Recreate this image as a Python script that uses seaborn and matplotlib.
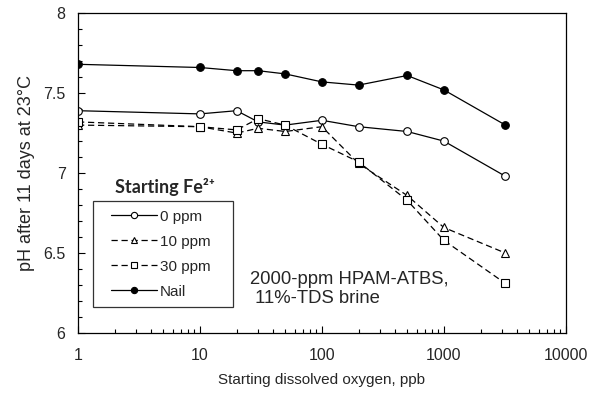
import numpy as np
import pandas as pd
import seaborn as sns
import matplotlib.pyplot as plt
from matplotlib.ticker import FixedLocator, FuncFormatter, MultipleLocator, LogLocator, NullFormatter
from matplotlib.lines import Line2D
from matplotlib.legend_handler import HandlerLine2D

# data
oxygen = [1, 10, 20, 30, 50, 100, 200, 500, 1000, 3200]
ph_0ppm = [7.39, 7.37, 7.39, 7.32, 7.30, 7.33, 7.29, 7.26, 7.20, 6.98]
ph_10ppm = [7.30, 7.29, 7.25, 7.28, 7.26, 7.29, 7.06, 6.86, 6.66, 6.50]
ph_30ppm = [7.32, 7.29, 7.27, 7.34, 7.30, 7.18, 7.07, 6.83, 6.58, 6.31]
ph_nail = [7.68, 7.66, 7.64, 7.64, 7.62, 7.57, 7.55, 7.61, 7.52, 7.30]
series_names = ["0 ppm", "10 ppm", "30 ppm", "Nail"]

sns.set_style("ticks")
plt.rcParams['font.family'] = ['Liberation Sans', 'DejaVu Sans']

fig = plt.figure(figsize=(6, 3.97), dpi=100)
ax = fig.add_axes([0.13, 0.161, 0.813, 0.806])

styles = {
    "0 ppm": dict(marker="o", linestyle="-", markerfacecolor="white"),
    "10 ppm": dict(marker="^", linestyle=(0, (5, 3)), markerfacecolor="white"),
    "30 ppm": dict(marker="s", linestyle=(0, (5, 3)), markerfacecolor="white"),
    "Nail": dict(marker="o", linestyle="-", markerfacecolor="black"),
}
values = [ph_0ppm, ph_10ppm, ph_30ppm, ph_nail]

for name, vals in zip(series_names, values):
    df = pd.DataFrame({"oxygen": oxygen, "ph": vals})
    st = styles[name]
    sns.lineplot(data=df, x="oxygen", y="ph", ax=ax, color="black", lw=0.9,
                 marker=st["marker"], linestyle=st["linestyle"],
                 markerfacecolor=st["markerfacecolor"], markeredgecolor="black",
                 markeredgewidth=0.8, markersize=5.5, legend=False)

ax.set_xscale("log")
ax.set_xlim(1, 10000)
ax.set_ylim(6, 8)
ax.xaxis.set_major_locator(FixedLocator([1, 10, 100, 1000, 10000]))
ax.xaxis.set_major_formatter(FuncFormatter(lambda v, p: f"{v:g}"))
ax.xaxis.set_minor_locator(LogLocator(base=10, subs=np.arange(2, 10)))
ax.xaxis.set_minor_formatter(NullFormatter())
ax.yaxis.set_major_locator(MultipleLocator(0.5))
ax.yaxis.set_minor_locator(MultipleLocator(0.1))
ax.yaxis.set_major_formatter(FuncFormatter(lambda v, p: f"{v:g}"))
ax.tick_params(which="both", direction="in", top=False, right=False, labelsize=11.5, color="black")
ax.tick_params(which="major", length=5, width=0.8)
ax.tick_params(which="minor", length=3, width=0.8)
ax.tick_params(axis="x", which="major", pad=11)
ax.tick_params(axis="y", which="major", pad=9)
for s in ax.spines.values():
    s.set_color("black")
    s.set_linewidth(0.9)

ax.set_xlabel("Starting dissolved oxygen, ppb", fontsize=11, labelpad=7)
ax.set_ylabel("pH after 11 days at 23°C", fontsize=13, labelpad=6)


# legend handles start a bit further in from the frame, like the original
class ShiftedHandler(HandlerLine2D):
    def get_xdata(self, legend, xdescent, ydescent, width, height, fontsize):
        x0 = -xdescent + 7
        x1 = -xdescent + width
        return np.array([x0, x1]), np.array([(x0 + x1) / 2])


handles = []
for name in series_names:
    st = styles[name]
    handles.append(Line2D([], [], color="black", lw=0.9, marker=st["marker"],
                          linestyle=st["linestyle"], markerfacecolor=st["markerfacecolor"],
                          markeredgecolor="black", markersize=4.5, markeredgewidth=0.8))
leg = ax.legend(handles, series_names, loc="lower left",
                bbox_to_anchor=(0.031, 0.081, 0.287, 0.3), mode="expand",
                handler_map={Line2D: ShiftedHandler(numpoints=1)},
                fontsize=11, handlelength=3.65, handletextpad=0.15, labelspacing=0.72,
                borderpad=0.55, borderaxespad=0, fancybox=False, frameon=True)
leg.get_frame().set_edgecolor("black")
leg.get_frame().set_linewidth(0.9)

ax.text(0.178, 0.455, "Starting Fe²⁺", transform=ax.transAxes, fontsize=13,
        fontweight="bold", family=["Lato", "DejaVu Sans"], ha="center", va="center")
ax.text(0.352, 0.1375, "2000-ppm HPAM-ATBS,\n 11%-TDS brine", transform=ax.transAxes,
        fontsize=13.3, ha="left", va="center", linespacing=1.2)

fig.savefig("out.png", dpi=100)
